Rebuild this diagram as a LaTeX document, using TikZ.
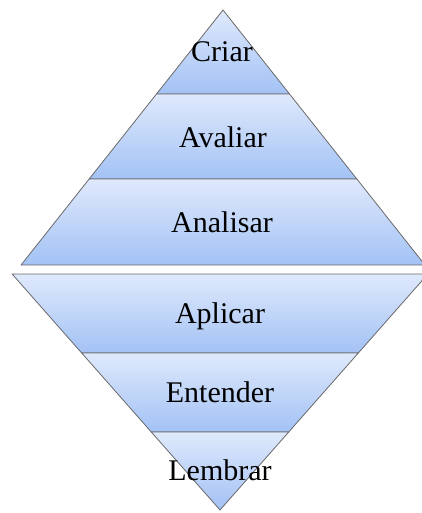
\documentclass[tikz,border=0pt]{standalone}
\usepackage{fontspec}
\setmainfont{Liberation Serif}
\definecolor{bandtop}{RGB}{223,233,252}
\definecolor{bandbot}{RGB}{163,194,245}
\definecolor{edge}{RGB}{105,105,105}
\usetikzlibrary{positioning}

\begin{document}
\begin{tikzpicture}[x=1pt,y=-1pt,
    band/.style={draw=edge,line width=0.8pt,top color=bandtop,bottom color=bandbot,line join=round},
    lbl/.style={anchor=base,inner sep=0pt,font=\fontsize{30}{32}\selectfont}]

    \useasboundingbox (0,0) rectangle (422,513);
    \clip (0,0) rectangle (422,513);

    % upper pyramid, apex at (223,10)
    \foreach \ya/\yb in {10/94,94/179,179/265} {
        \draw[band] ({223-.792*(\ya-10)},\ya) -- ({223+.792*(\ya-10)},\ya)
            -- ({223+.792*(\yb-10)},\yb) -- ({223-.792*(\yb-10)},\yb) -- cycle;
    }
    % lower pyramid, apex at (220,510)
    \foreach \ya/\yb in {274/353,353/432,432/510} {
        \draw[band] ({220-.881*(510-\ya)},\ya) -- ({220+.881*(510-\ya)},\ya)
            -- ({220+.881*(510-\yb)},\yb) -- ({220-.881*(510-\yb)},\yb) -- cycle;
    }

    \node[lbl] (criar) at (222,62) {Criar};
    \node[lbl] (avaliar) at (223,147) {Avaliar};
    \node[lbl] (analisar) at (222,232) {Analisar};
    \node[lbl] (aplicar) at (220,323) {Aplicar};
    \node[lbl] (entender) at (220,402) {Entender};
    \node[lbl] (lembrar) at (220,480) {Lembrar};
\end{tikzpicture}
\end{document}
